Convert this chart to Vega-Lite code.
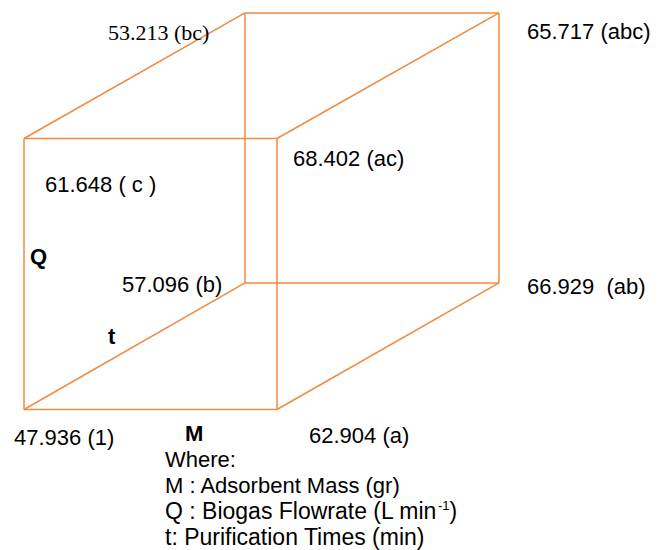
{
  "$schema": "https://vega.github.io/schema/vega-lite/v6.json",
  "width": 666,
  "height": 550,
  "autosize": {"type": "fit", "contains": "padding"},
  "padding": 0,
  "background": "white",
  "config": {"view": {"stroke": null}},
  "datasets": {
    "edges": [
      {"x": 24, "y": 139, "x2": 277, "y2": 139},
      {"x": 277, "y": 139, "x2": 277, "y2": 411},
      {"x": 277, "y": 411, "x2": 24, "y2": 411},
      {"x": 24, "y": 411, "x2": 24, "y2": 139},
      {"x": 245, "y": 13, "x2": 499, "y2": 13},
      {"x": 499, "y": 13, "x2": 499, "y2": 284},
      {"x": 499, "y": 284, "x2": 245, "y2": 284},
      {"x": 245, "y": 284, "x2": 245, "y2": 13},
      {"x": 24, "y": 139, "x2": 245, "y2": 13},
      {"x": 277, "y": 139, "x2": 499, "y2": 13},
      {"x": 277, "y": 411, "x2": 499, "y2": 284},
      {"x": 24, "y": 411, "x2": 245, "y2": 284}
    ],
    "values": [
      {"x": 527, "y": 39, "label": "65.717 (abc)"},
      {"x": 293, "y": 167, "label": "68.402 (ac)"},
      {"x": 45, "y": 193, "label": "61.648 ( c )"},
      {"x": 122, "y": 293, "label": "57.096 (b)"},
      {"x": 527, "y": 295, "label": "66.929 \u00a0(ab)"},
      {"x": 309, "y": 445, "label": "62.904 (a)"},
      {"x": 14, "y": 447, "label": "47.936 (1)"}
    ],
    "serif": [
      {"x": 108, "y": 40, "label": "53.213 (bc)"}
    ],
    "factors": [
      {"x": 30, "y": 265, "label": "Q"},
      {"x": 108, "y": 345, "label": "t"},
      {"x": 185, "y": 443, "label": "M"}
    ],
    "legend": [
      {"x": 165, "y": 469, "label": "Where:"},
      {"x": 165, "y": 495, "label": "M : Adsorbent Mass (gr)"}
    ],
    "legendWide": [
      {"x": 165, "y": 521, "label": "Q : Biogas Flowrate (L min"},
      {"x": 165, "y": 547, "label": "t: Purification Times (min)"}
    ],
    "sup": [
      {"x": 438, "y": 512, "label": "-1"}
    ],
    "close": [
      {"x": 449.5, "y": 521, "label": ")"}
    ]
  },
  "encoding": {
    "x": {"field": "x", "type": "quantitative", "scale": {"domain": [0, 666], "nice": false, "zero": false}, "axis": null},
    "y": {"field": "y", "type": "quantitative", "scale": {"domain": [0, 550], "nice": false, "zero": false, "reverse": true}, "axis": null}
  },
  "layer": [
    {
      "data": {"name": "edges"},
      "mark": {"type": "rule", "color": "#F08A3E", "strokeWidth": 1.5},
      "encoding": {"x2": {"field": "x2"}, "y2": {"field": "y2"}}
    },
    {
      "data": {"name": "values"},
      "mark": {"type": "text", "align": "left", "baseline": "alphabetic", "font": "Liberation Sans", "fontSize": 22, "color": "#000000"},
      "encoding": {"text": {"field": "label"}}
    },
    {
      "data": {"name": "serif"},
      "mark": {"type": "text", "align": "left", "baseline": "alphabetic", "font": "Liberation Serif", "fontSize": 22, "color": "#000000"},
      "encoding": {"text": {"field": "label"}}
    },
    {
      "data": {"name": "factors"},
      "mark": {"type": "text", "align": "left", "baseline": "alphabetic", "font": "Liberation Sans", "fontWeight": "bold", "fontSize": 22, "color": "#000000"},
      "encoding": {"text": {"field": "label"}}
    },
    {
      "data": {"name": "legend"},
      "mark": {"type": "text", "align": "left", "baseline": "alphabetic", "font": "Liberation Sans", "fontSize": 22, "color": "#000000"},
      "encoding": {"text": {"field": "label"}}
    },
    {
      "data": {"name": "legendWide"},
      "mark": {"type": "text", "align": "left", "baseline": "alphabetic", "font": "Liberation Sans", "fontSize": 23, "color": "#000000"},
      "encoding": {"text": {"field": "label"}}
    },
    {
      "data": {"name": "sup"},
      "mark": {"type": "text", "align": "left", "baseline": "alphabetic", "font": "Liberation Sans", "fontSize": 13, "color": "#000000"},
      "encoding": {"text": {"field": "label"}}
    },
    {
      "data": {"name": "close"},
      "mark": {"type": "text", "align": "left", "baseline": "alphabetic", "font": "Liberation Sans", "fontSize": 23, "color": "#000000"},
      "encoding": {"text": {"field": "label"}}
    }
  ]
}
